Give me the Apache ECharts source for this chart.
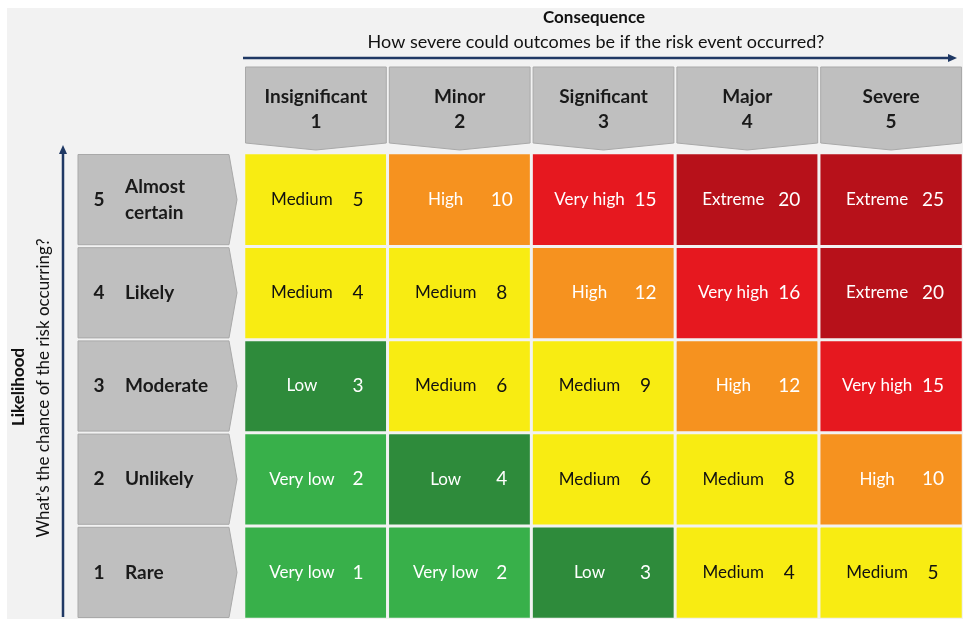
<!DOCTYPE html>
<html><head><meta charset="utf-8">
<script src="https://cdn.jsdelivr.net/npm/echarts@6/dist/echarts.min.js"></script>
<style>html,body{margin:0;padding:0;background:#fff}#c{width:963px;height:619px}</style>
</head><body><div id="c"></div>
<script>
// ---- data ----
var consequences = ['Insignificant', 'Minor', 'Significant', 'Major', 'Severe'];
var consequenceNums = ['1', '2', '3', '4', '5'];
var likelihoods = ['Rare', 'Unlikely', 'Moderate', 'Likely', 'Almost\ncertain']; // 1 .. 5
var likelihoodNums = ['1', '2', '3', '4', '5'];
// rows from likelihood 1 (Rare) to 5 (Almost certain), columns consequence 1..5
var scores = [
  [1, 2, 3, 4, 5],
  [2, 4, 6, 8, 10],
  [3, 6, 9, 12, 15],
  [4, 8, 12, 16, 20],
  [5, 10, 15, 20, 25]
];
var levels = [
  ['Very low', 'Very low', 'Low', 'Medium', 'Medium'],
  ['Very low', 'Low', 'Medium', 'Medium', 'High'],
  ['Low', 'Medium', 'Medium', 'High', 'Very high'],
  ['Medium', 'Medium', 'High', 'Very high', 'Extreme'],
  ['Medium', 'High', 'Very high', 'Extreme', 'Extreme']
];
var levelColors = {
  'Very low': '#38b04a', 'Low': '#2e8b3b', 'Medium': '#f8ec12',
  'High': '#f6921f', 'Very high': '#e6181f', 'Extreme': '#b7111a'
};
var levelText = {
  'Very low': '#ffffff', 'Low': '#ffffff', 'Medium': '#111111',
  'High': '#ffffff', 'Very high': '#ffffff', 'Extreme': '#ffffff'
};

var FONT = 'Lato, "Open Sans", sans-serif';
var NAVY = '#1f3864';

var cellData = [];
for (var r = 0; r < 5; r++) {
  for (var c = 0; c < 5; c++) {
    var lv = levels[r][c];
    cellData.push({
      value: [c, r, scores[r][c]],
      level: lv,
      itemStyle: { color: levelColors[lv] },
      label: { color: levelText[lv] }
    });
  }
}

var chart = echarts.init(document.getElementById('c'));
var option = {
  backgroundColor: '#ffffff',
  animation: false,
  graphic: [
    { type: 'rect', z: -10, silent: true, shape: { x: 7, y: 8, width: 2000, height: 2000 }, style: { fill: '#f2f2f2' } },
    { type: 'text', style: { text: 'Consequence', x: 594, y: 18, align: 'center', verticalAlign: 'middle', font: 'bold 17px ' + FONT, fill: '#111' } },
    { type: 'text', style: { text: 'How severe could outcomes be if the risk event occurred?', x: 596, y: 42, align: 'center', verticalAlign: 'middle', font: '18px ' + FONT, fill: '#111' } },
    { type: 'line', shape: { x1: 243, y1: 58, x2: 950, y2: 58 }, style: { stroke: NAVY, lineWidth: 2.5 } },
    { type: 'polygon', shape: { points: [[957, 58], [948, 54], [948, 62]] }, style: { fill: NAVY } },
    { type: 'line', shape: { x1: 63, y1: 617, x2: 63, y2: 152 }, style: { stroke: NAVY, lineWidth: 2.5 } },
    { type: 'polygon', shape: { points: [[63, 145], [59, 154], [67, 154]] }, style: { fill: NAVY } },
    { type: 'text', x: 19, y: 387, rotation: Math.PI / 2, style: { text: 'Likelihood', align: 'center', verticalAlign: 'middle', font: 'bold 17px ' + FONT, fill: '#111' } },
    { type: 'text', x: 44, y: 388, rotation: Math.PI / 2, style: { text: 'What\u2019s the chance of the risk occurring?', align: 'center', verticalAlign: 'middle', font: '17px ' + FONT, fill: '#111' } }
  ],
  grid: [
    { left: 244, top: 153, width: 728, height: 468 },
    { left: 244, top: 67, width: 728, height: 83 },
    { left: 78, top: 153, width: 159, height: 468 }
  ],
  xAxis: [
    { gridIndex: 0, type: 'category', data: consequences, show: false },
    { gridIndex: 1, type: 'category', data: consequences, show: false },
    { gridIndex: 2, type: 'category', data: ['h'], show: false }
  ],
  yAxis: [
    { gridIndex: 0, type: 'category', data: likelihoods, show: false },
    { gridIndex: 1, type: 'category', data: ['h'], show: false },
    { gridIndex: 2, type: 'category', data: likelihoods, show: false }
  ],
  series: [
    {
      type: 'heatmap', xAxisIndex: 0, yAxisIndex: 0,
      data: cellData,
      itemStyle: { borderColor: '#f2f2f2', borderWidth: 3 },
      emphasis: { disabled: true },
      label: {
        show: true,
        formatter: function (p) { return '{a|' + p.data.level + '}{b|' + p.value[2] + '}'; },
        rich: {
          a: { width: 84, align: 'center', fontSize: 17, fontFamily: FONT },
          b: { width: 28, align: 'center', fontSize: 19, fontFamily: FONT }
        }
      }
    },
    {
      type: 'custom', xAxisIndex: 1, yAxisIndex: 1,
      data: consequences.map(function (c, i) { return [i, 0]; }),
      renderItem: function (params, api) {
        var i = api.value(0);
        var p = api.coord([i, 0]);
        var s = api.size([1, 1]);
        var x0 = p[0] - s[0] / 2 + 1.5, x1 = p[0] + s[0] / 2 - 1.5;
        var y0 = p[1] - s[1] / 2, y1 = p[1] + s[1] / 2 - 7, yt = p[1] + s[1] / 2;
        return {
          type: 'group', children: [
            { type: 'polygon', shape: { points: [[x0, y0], [x1, y0], [x1, y1], [p[0], yt], [x0, y1]] }, style: { fill: '#bfbfbf', stroke: '#a9a9a9', lineWidth: 1 } },
            { type: 'text', style: { text: consequences[i] + '\n' + consequenceNums[i], x: p[0], y: p[1] + 1, align: 'center', verticalAlign: 'middle', font: 'bold 19px ' + FONT, lineHeight: 25, fill: '#1a1a1a' } }
          ]
        };
      }
    },
    {
      type: 'custom', xAxisIndex: 2, yAxisIndex: 2,
      data: likelihoods.map(function (l, i) { return [0, i]; }),
      renderItem: function (params, api) {
        var j = api.value(1);
        var p = api.coord([0, j]);
        var s = api.size([1, 1]);
        var x0 = p[0] - s[0] / 2, xt = p[0] + s[0] / 2, x1 = xt - 8;
        var y0 = p[1] - s[1] / 2 + 1.5, y1 = p[1] + s[1] / 2 - 1.5;
        return {
          type: 'group', children: [
            { type: 'polygon', shape: { points: [[x0, y0], [x1, y0], [xt, p[1]], [x1, y1], [x0, y1]] }, style: { fill: '#bfbfbf', stroke: '#a9a9a9', lineWidth: 1 } },
            { type: 'text', style: { text: likelihoodNums[j], x: x0 + 21, y: p[1], align: 'center', verticalAlign: 'middle', font: 'bold 19px ' + FONT, fill: '#1a1a1a' } },
            { type: 'text', style: { text: likelihoods[j], x: x0 + 47, y: p[1], align: 'left', verticalAlign: 'middle', font: 'bold 19px ' + FONT, lineHeight: 26, fill: '#1a1a1a' } }
          ]
        };
      }
    }
  ]
};
chart.setOption(option);
</script></body></html>
